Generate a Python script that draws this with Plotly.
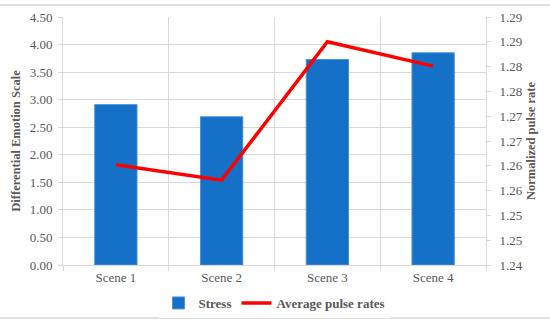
import plotly.graph_objects as go

scenes = ["Scene 1", "Scene 2", "Scene 3", "Scene 4"]
stress = [2.91, 2.69, 3.73, 3.85]
pulse = [1.2602, 1.2571, 1.2850, 1.2801]

left_ticks = [0, 0.5, 1.0, 1.5, 2.0, 2.5, 3.0, 3.5, 4.0, 4.5]
left_labels = ["0.00", "0.50", "1.00", "1.50", "2.00", "2.50", "3.00", "3.50", "4.00", "4.50"]
right_ticks = [1.24, 1.245, 1.25, 1.255, 1.26, 1.265, 1.27, 1.275, 1.28, 1.285, 1.29]
right_labels = ["1.24", "1.25", "1.25", "1.26", "1.26", "1.27", "1.27", "1.28", "1.28", "1.29", "1.29"]

FONT = "Liberation Serif"
TXT = "#595959"
GRID = "#D9D9D9"

fig = go.Figure()
fig.add_trace(go.Bar(
    x=scenes, y=stress, name="Stress",
    marker=dict(color="#1570C8", line=dict(color="#4A90D9", width=1)),
    yaxis="y",
))
fig.add_trace(go.Scatter(
    x=scenes, y=pulse, name="Average pulse rates", mode="lines",
    line=dict(color="#FF0000", width=3.5),
    yaxis="y2",
))

fig.update_layout(
    width=550, height=324,
    margin=dict(l=63, r=64, t=17, b=59, autoexpand=False),
    paper_bgcolor="white", plot_bgcolor="white",
    font=dict(family=FONT, size=13, color=TXT),
    bargap=0.6,
    showlegend=True,
    legend=dict(orientation="h", x=0.5, xanchor="center", y=-38 / 248, yanchor="middle",
                font=dict(family=FONT, size=13, color=TXT, weight="bold"),
                itemwidth=30, tracegroupgap=0),
    xaxis=dict(
        type="category", tickson="boundaries", showgrid=True, gridcolor=GRID, gridwidth=1,
        showline=True, linecolor=GRID, linewidth=1,
        ticks="outside", ticklen=5, tickcolor=GRID,
        tickfont=dict(family=FONT, size=13, color=TXT),
        automargin=False,
    ),
    yaxis=dict(
        range=[0, 4.5], tickvals=left_ticks, ticktext=left_labels,
        showgrid=True, gridcolor=GRID, gridwidth=1,
        showline=True, linecolor=GRID, linewidth=1,
        ticks="outside", ticklen=4, tickcolor=GRID,
        zeroline=False, automargin=False, ticklabelstandoff=3,
        title=dict(text="<b>Differential Emotion Scale</b>", font=dict(family=FONT, size=12.5, color=TXT), standoff=6),
        tickfont=dict(family=FONT, size=13, color=TXT),
    ),
    yaxis2=dict(
        range=[1.24, 1.29], tickvals=right_ticks, ticktext=right_labels,
        overlaying="y", side="right", showgrid=False,
        showline=True, linecolor=GRID, linewidth=1,
        ticks="outside", ticklen=4, tickcolor=GRID,
        zeroline=False, automargin=False, ticklabelstandoff=6,
        title=dict(text="<b>Normalized pulse rate</b>", font=dict(family=FONT, size=12.5, color=TXT), standoff=4),
        tickfont=dict(family=FONT, size=13, color=TXT),
    ),
    shapes=[
        dict(type="line", xref="paper", yref="paper", x0=-0.2, x1=1.2, y0=1.0 + 12 / 248, y1=1.0 + 12 / 248,
             line=dict(color="#E0E0E0", width=2)),
        dict(type="line", xref="paper", yref="paper", x0=-0.2, x1=1.2, y0=-53 / 248, y1=-53 / 248,
             line=dict(color="#E0E0E0", width=2)),
    ],
)

fig.write_html("out.html", config={"displayModeBar": False},
               post_script="document.body.style.margin='0';document.body.style.overflow='hidden';")
